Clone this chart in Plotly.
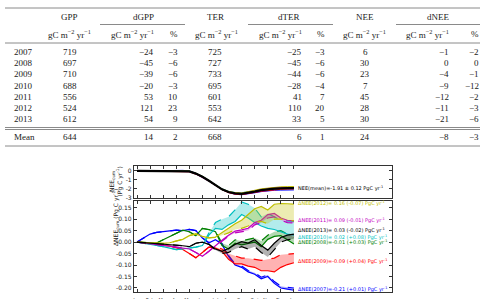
import numpy as np
import plotly.graph_objects as go

# ---------------- table data ----------------
years = ["2007", "2008", "2009", "2010", "2011", "2012", "2013"]
gpp = [719, 697, 710, 688, 556, 524, 612]
dgpp = [-24, -45, -39, -20, 53, 121, 54]
dgpp_pct = [-3, -6, -6, -3, 10, 23, 9]
ter = [725, 727, 733, 695, 601, 553, 642]
dter = [-25, -45, -44, -28, 41, 110, 33]
dter_pct = [-3, -6, -6, -4, 7, 20, 5]
nee = [6, 30, 23, 7, 45, 28, 30]
dnee = [-1, 0, -4, -9, -12, -11, -21]
dnee_pct = [-2, 0, -1, -12, -2, -3, -6]
mean_row = {"gpp": 644, "dgpp": 14, "dgpp_pct": 2, "ter": 668, "dter": 6,
            "dter_pct": 1, "nee": 24, "dnee": -8, "dnee_pct": -3}

# ---------------- chart data ----------------
months = [i * 0.5 for i in range(25)]
month_ticks = list(range(13))
month_labels = ["Jan", "Feb", "Mar", "Apr", "May", "Jun", "Jul", "Aug",
                "Sep", "Oct", "Nov", "Dec", "Jan"]

nee_cum_mean = [0, 0, 0, 0, 0, 0.01, 0.01, 0.01, -0.05, -0.3, -0.65, -1.1, -1.6,
                -2.05, -2.35, -2.5, -2.55, -2.45, -2.3, -2.15, -2.05, -1.98,
                -1.94, -1.92, -1.91]

d2007 = [0, 0.018, 0.035, 0.042, 0.046, 0.05, 0.052, 0.05, 0.055, 0.05, 0.018, -0.003,
         0.01, -0.01, -0.063, -0.1, -0.11, -0.13, -0.14, -0.16, -0.15, -0.18, -0.2,
         -0.205, -0.21]
d2007b = [0, 0.018, 0.035, 0.042, 0.046, 0.05, 0.052, 0.05, 0.055, 0.05, 0.018, -0.003,
          0.012, -0.006, -0.058, -0.095, -0.104, -0.124, -0.134, -0.153, -0.143,
          -0.172, -0.192, -0.197, -0.2]
d2008 = [0, -0.002, -0.003, -0.004, 0.01, 0.025, 0.04, 0.052, 0.045, 0.028, 0.06, 0.055,
         0.045, -0.015, -0.03, -0.005, -0.012, -0.005, 0.0, -0.02, 0.012, 0.025, 0.028,
         0.01, -0.008]
d2008b = [0, -0.002, -0.003, -0.004, 0.01, 0.025, 0.04, 0.052, 0.045, 0.028, 0.06, 0.055,
          0.048, -0.005, -0.015, 0.01, 0.005, 0.012, 0.018, 0.005, 0.03, 0.045, 0.05,
          0.035, 0.022]
d2009 = [0, -0.003, -0.006, -0.009, -0.012, -0.018, -0.024, -0.032, -0.05, -0.068,
         -0.045, -0.022, -0.026, -0.04, -0.075, -0.095, -0.095, -0.105, -0.11, -0.125,
         -0.125, -0.13, -0.11, -0.098, -0.09]
d2009b = [0, -0.003, -0.006, -0.009, -0.012, -0.018, -0.024, -0.032, -0.05, -0.068,
          -0.045, -0.022, -0.022, -0.03, -0.05, -0.06, -0.07, -0.07, -0.075, -0.08,
          -0.075, -0.07, -0.055, -0.052, -0.05]
d2010 = [0, -0.004, -0.01, -0.015, -0.02, -0.028, -0.033, -0.03, -0.027, -0.022, -0.015,
         0.03, 0.06, 0.055, 0.075, 0.09, 0.12, 0.105, 0.085, 0.07, 0.06, 0.055, 0.045,
         0.035, 0.03]
d2010b = [0, -0.004, -0.01, -0.015, -0.02, -0.028, -0.033, -0.03, -0.027, -0.022, -0.015,
          0.04, 0.085, 0.1, 0.11, 0.14, 0.175, 0.165, 0.148, 0.11, 0.125, 0.11, 0.095,
          0.092, 0.09]
d2011 = [0, -0.003, -0.007, -0.01, -0.014, -0.018, -0.022, -0.025, -0.03, -0.045,
         -0.062, -0.04, -0.015, 0.008, 0.03, 0.048, 0.053, 0.06, 0.085, 0.095, 0.12,
         0.125, 0.105, 0.095, 0.093]
d2011b = [0, -0.003, -0.007, -0.01, -0.014, -0.018, -0.022, -0.025, -0.03, -0.045,
          -0.062, -0.04, -0.015, 0.004, 0.025, 0.04, 0.045, 0.05, 0.075, 0.085, 0.105,
          0.11, 0.095, 0.085, 0.083]
d2012 = [0, -0.002, -0.004, -0.006, -0.006, -0.003, 0.003, 0.012, 0.028, 0.036, 0.025,
         0.018, 0.022, 0.04, 0.06, 0.08, 0.095, 0.12, 0.145, 0.155, 0.14, 0.165, 0.168,
         0.167, 0.165]
d2012b = [0, -0.002, -0.004, -0.006, -0.006, -0.003, 0.003, 0.012, 0.028, 0.036, 0.025,
          0.018, 0.02, 0.03, 0.04, 0.055, 0.06, 0.07, 0.085, 0.09, 0.08, 0.1, 0.1,
          0.095, 0.092]
d2013 = [0, -0.002, -0.004, -0.006, -0.008, -0.01, -0.012, -0.016, -0.02, -0.005, 0.0,
         -0.01, -0.03, -0.04, -0.028, -0.01, 0.002, -0.004, 0.01, -0.015, -0.035, -0.005,
         0.02, 0.03, 0.035]
d2013b = [0, -0.002, -0.004, -0.006, -0.008, -0.01, -0.012, -0.016, -0.02, -0.005, 0.0,
          -0.01, -0.035, -0.05, -0.045, -0.03, -0.02, -0.03, -0.02, -0.045, -0.065, -0.03,
          0.0, 0.01, 0.015]

series_solid = [d2007, d2008, d2009, d2010, d2011, d2012, d2013]
series_dashed = [d2007b, d2008b, d2009b, d2010b, d2011b, d2012b, d2013b]
colors = ["#0000ff", "#008000", "#ff0000", "#00bfbf", "#bf00bf", "#bfbf00", "#000000"]
fills = ["rgba(0,0,255,0.3)", "rgba(0,128,0,0.3)", "rgba(255,0,0,0.3)",
         "rgba(0,191,191,0.3)", "rgba(191,0,191,0.3)", "rgba(191,191,0,0.3)",
         "rgba(0,0,0,0.3)"]
label_texts = ["ΔNEE(2007)=-0.21 (+0.01) PgC yr<sup>-1</sup>",
               "ΔNEE(2008)=-0.01 (+0.03) PgC yr<sup>-1</sup>",
               "ΔNEE(2009)=-0.09 (+0.04) PgC yr<sup>-1</sup>",
               "ΔNEE(2010)= 0.02 (+0.08) PgC yr<sup>-1</sup>",
               "ΔNEE(2011)= 0.09 (-0.01) PgC yr<sup>-1</sup>",
               "ΔNEE(2012)= 0.16 (-0.07) PgC yr<sup>-1</sup>",
               "ΔNEE(2013)= 0.03 (-0.02) PgC yr<sup>-1</sup>"]
label_y = [-0.208, -0.002, -0.086, 0.02, 0.094, 0.167, 0.049]

W, H = 480, 299


def px(x):
    return x / W


def py(y):
    return 1 - y / H


fig = go.Figure()

# upper panel: cumulative NEE per year (mean + anomaly) and mean
mean_arr = np.array(nee_cum_mean)
for s, c in zip(series_solid, colors):
    fig.add_trace(go.Scatter(x=months, y=mean_arr + np.array(s), mode="lines",
                             line=dict(color=c, width=1), xaxis="x", yaxis="y",
                             showlegend=False, hoverinfo="skip"))
fig.add_trace(go.Scatter(x=months, y=nee_cum_mean, mode="lines",
                         line=dict(color="black", width=2.2), xaxis="x", yaxis="y",
                         showlegend=False, hoverinfo="skip"))

# lower panel: anomalies with bands
for s, sb, c, f in zip(series_solid, series_dashed, colors, fills):
    fig.add_trace(go.Scatter(x=months, y=sb, mode="lines",
                             line=dict(color=c, width=1.2, dash="dash"),
                             xaxis="x2", yaxis="y2", showlegend=False, hoverinfo="skip"))
    fig.add_trace(go.Scatter(x=months, y=s, mode="lines", fill="tonexty", fillcolor=f,
                             line=dict(color=c, width=1.2),
                             xaxis="x2", yaxis="y2", showlegend=False, hoverinfo="skip"))

ann = []
shapes = []

CHART_FONT = "DejaVu Sans"

# chart labels
for t, yv, c in zip(label_texts, label_y, colors):
    ann.append(dict(x=12.15, y=yv, xref="x2", yref="y2", text=t, showarrow=False,
                    xanchor="left", yanchor="middle",
                    font=dict(family=CHART_FONT, size=5, color=c)))
ann.append(dict(x=12.15, y=nee_cum_mean[-1], xref="x", yref="y",
                text="NEE(mean)=-1.91 ± 0.12 PgC yr<sup>-1</sup>", showarrow=False,
                xanchor="left", yanchor="middle",
                font=dict(family=CHART_FONT, size=5, color="black")))
# axis titles
ann.append(dict(x=px(106), y=py(182), xref="paper", yref="paper",
                text="NEE<sub>cum</sub>", textangle=-90, showarrow=False,
                font=dict(family=CHART_FONT, size=6, color="#222")))
ann.append(dict(x=px(113), y=py(182), xref="paper", yref="paper",
                text="(Pg C yr<sup>-1</sup>)", textangle=-90, showarrow=False,
                font=dict(family=CHART_FONT, size=6, color="#222")))
ann.append(dict(x=px(109), y=py(248), xref="paper", yref="paper",
                text="ΔNEE<sub>cum</sub> (Pg C yr<sup>-1</sup>)", textangle=-90,
                showarrow=False, font=dict(family=CHART_FONT, size=6, color="#222")))

# ---------------- table ----------------
tfont = dict(family="Liberation Serif", size=9, color="#222")


def neg(v):
    return str(v).replace("-", "\u2212")


def tx(x, y, text, anchor="center"):
    ann.append(dict(x=px(x), y=py(y), xref="paper", yref="paper", text=text,
                    showarrow=False, xanchor=anchor, yanchor="middle", font=tfont))


units = "gC m<sup>\u22122</sup> yr<sup>\u22121</sup>"
for x, t in [(69, "GPP"), (143, "dGPP"), (215, "TER"), (289, "dTER"),
             (365, "NEE"), (438, "dNEE")]:
    tx(x, 17, t)
for x, t, a in [(69, units, "center"), (155.5, units, "right"), (180, "%", "right"),
                (216, units, "center"), (303.5, units, "right"), (327, "%", "right"),
                (364, units, "center"), (451, units, "right"), (481, "%", "right")]:
    tx(x, 33.5, t, a)

row_y = [52.3, 63.3, 74.4, 85.6, 96.9, 108.2, 119.4]
for i, yr in enumerate(years):
    y = row_y[i]
    tx(11.5, y, yr, "left")
    tx(69.5, y, str(gpp[i]))
    tx(155.5, y, neg(dgpp[i]), "right")
    tx(180, y, neg(dgpp_pct[i]), "right")
    tx(215, y, str(ter[i]))
    tx(303.5, y, neg(dter[i]), "right")
    tx(327, y, neg(dter_pct[i]), "right")
    tx(365, y, str(nee[i]))
    tx(451, y, neg(dnee[i]), "right")
    tx(481, y, neg(dnee_pct[i]), "right")
ym = 136.8
tx(11.5, ym, "Mean", "left")
tx(69.5, ym, str(mean_row["gpp"]))
tx(155.5, ym, neg(mean_row["dgpp"]), "right")
tx(180, ym, neg(mean_row["dgpp_pct"]), "right")
tx(215, ym, str(mean_row["ter"]))
tx(303.5, ym, neg(mean_row["dter"]), "right")
tx(327, ym, neg(mean_row["dter_pct"]), "right")
tx(365, ym, str(mean_row["nee"]))
tx(451, ym, neg(mean_row["dnee"]), "right")
tx(481, ym, neg(mean_row["dnee_pct"]), "right")


def hline(x0, x1, y, w=1, c="#8a8a8a"):
    shapes.append(dict(type="line", xref="paper", yref="paper", x0=px(x0), x1=px(x1),
                       y0=py(y), y1=py(y), line=dict(color=c, width=w)))


hline(5, 480, 8)
hline(100, 185, 24.5)
hline(248, 333, 24.5)
hline(396, 480, 24.5)
hline(5, 480, 43)
hline(5, 480, 127.5)
hline(5, 480, 129.5)
hline(5, 480, 146)

axis_common = dict(showline=True, linecolor="#333", linewidth=1.3, mirror="allticks",
                   ticks="inside", ticklen=3, tickwidth=0.8, tickcolor="#333",
                   showgrid=False, zeroline=False, automargin=False, tickangle=0,
                   tickfont=dict(family=CHART_FONT, size=6, color="#222"))

fig.update_layout(
    width=W, height=H, margin=dict(l=0, r=0, t=0, b=0, autoexpand=False),
    paper_bgcolor="white", plot_bgcolor="white", showlegend=False,
    annotations=ann, shapes=shapes,
    xaxis=dict(domain=[px(134), px(392)], range=[-0.23, 19.5], anchor="y",
               tickvals=month_ticks, showticklabels=False, **axis_common),
    yaxis=dict(domain=[py(198), py(166)], range=[-3.02, 0.55], anchor="x",
               tickvals=[0, -1, -2, -3], ticktext=["0", "-1", "-2", "-3"], **axis_common),
    xaxis2=dict(domain=[px(134), px(392)], range=[-0.23, 19.5], anchor="y2",
                tickvals=month_ticks, ticktext=month_labels, ticklabelstandoff=3,
                **axis_common),
    yaxis2=dict(domain=[py(292), py(201)], range=[-0.2175, 0.179], anchor="x2",
                tickvals=[0.15, 0.10, 0.05, 0.0, -0.05, -0.10, -0.15, -0.20],
                ticktext=["0.15", "0.10", "0.05", "-0.00", "-0.05", "-0.10", "-0.15",
                          "-0.20"], **axis_common),
)
fig.update_xaxes(tickfont=dict(size=5), selector=dict(anchor="y2"))

fig.write_html("out.html")
